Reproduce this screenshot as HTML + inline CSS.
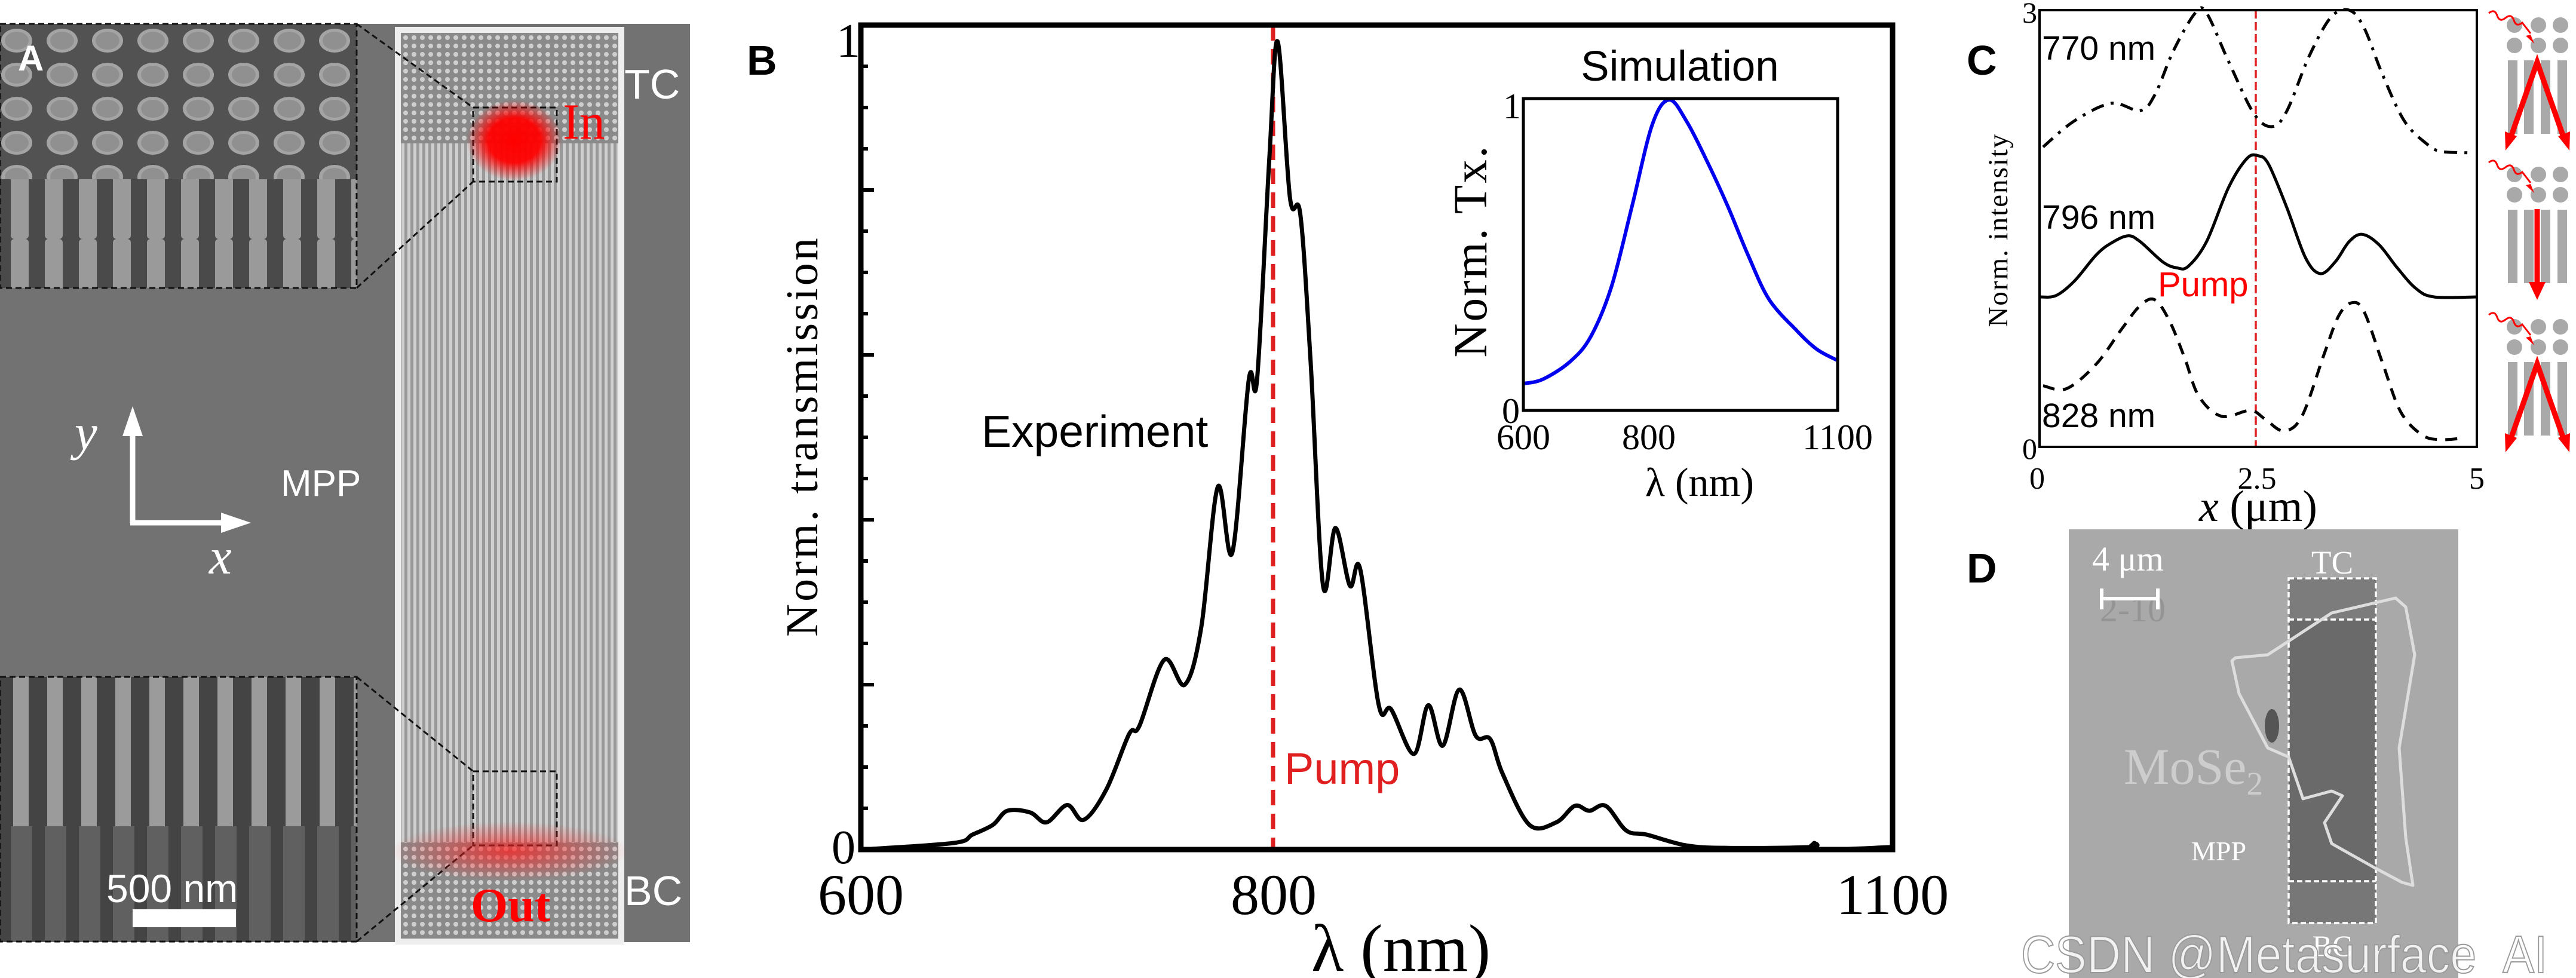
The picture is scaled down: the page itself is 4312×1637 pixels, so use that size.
<!DOCTYPE html>
<html><head><meta charset="utf-8"><style>
html,body{margin:0;padding:0;background:#fff;width:4312px;height:1637px;overflow:hidden}
svg{display:block}
.sans{font-family:"Liberation Sans",sans-serif}
.serif{font-family:"Liberation Serif",serif}
</style></head><body>
<svg id="fig" width="4312" height="1637" viewBox="0 0 4312 1637" xmlns="http://www.w3.org/2000/svg">
<defs>
<radialGradient id="inG"><stop offset="0" stop-color="#ff0000"/><stop offset="0.55" stop-color="#ff0000" stop-opacity="0.95"/><stop offset="1" stop-color="#ff0000" stop-opacity="0"/></radialGradient>
<radialGradient id="outG"><stop offset="0" stop-color="#ff2020" stop-opacity="0.75"/><stop offset="1" stop-color="#ff2020" stop-opacity="0"/></radialGradient>
<pattern id="dots" width="14" height="14" patternUnits="userSpaceOnUse"><rect width="14" height="14" fill="#8a8a8a"/><circle cx="7" cy="7" r="4" fill="#cfcfcf"/></pattern>
<pattern id="lines" width="10" height="10" patternUnits="userSpaceOnUse"><rect width="10" height="10" fill="#999"/><rect x="2" width="5" height="10" fill="#cfcfcf"/></pattern>
<pattern id="bigDots" width="76" height="57" patternUnits="userSpaceOnUse" x="-10" y="40"><rect width="76" height="57" fill="#525252"/><ellipse cx="38" cy="28" rx="26" ry="20" fill="#a4a4a4"/><ellipse cx="38" cy="28" rx="20" ry="15" fill="#909090"/></pattern>
<pattern id="pillars" width="57" height="200" patternUnits="userSpaceOnUse" x="8"><rect width="57" height="200" fill="#4a4a4a"/><rect x="10" width="30" height="200" fill="#9a9a9a" rx="6"/></pattern>
<pattern id="pillars2" width="57" height="450" patternUnits="userSpaceOnUse" x="8" y="1133"><rect width="57" height="450" fill="#444"/><rect x="14" width="26" height="250" fill="#9b9b9b"/><rect x="10" y="250" width="36" height="200" fill="#606060"/></pattern>
</defs>

<!-- ===== PANEL A ===== -->
<g>
<rect x="0" y="40" width="1155" height="1537" fill="#727272"/>
<rect x="666" y="50" width="374" height="1526" fill="url(#lines)"/>
<rect x="666" y="50" width="374" height="190" fill="url(#dots)"/>
<rect x="666" y="1410" width="374" height="166" fill="url(#dots)"/>
<rect x="666" y="50" width="374" height="1526" fill="none" stroke="#eee" stroke-width="10"/>
<rect x="0" y="40" width="597" height="442" fill="url(#bigDots)"/>
<rect x="0" y="300" width="597" height="182" fill="url(#pillars)"/>
<rect x="0" y="40" width="597" height="442" fill="none" stroke="#111" stroke-width="3" stroke-dasharray="10 6"/>
<rect x="0" y="1133" width="597" height="443" fill="url(#pillars2)"/>
<rect x="0" y="1133" width="597" height="443" fill="none" stroke="#111" stroke-width="3" stroke-dasharray="10 6"/>
<rect x="792" y="180" width="140" height="124" fill="none" stroke="#111" stroke-width="3" stroke-dasharray="10 6"/>
<rect x="792" y="1291" width="140" height="124" fill="none" stroke="#111" stroke-width="3" stroke-dasharray="10 6"/>
<line x1="597" y1="40" x2="792" y2="180" stroke="#111" stroke-width="3" stroke-dasharray="10 6"/>
<line x1="597" y1="482" x2="792" y2="304" stroke="#111" stroke-width="3" stroke-dasharray="10 6"/>
<line x1="597" y1="1133" x2="792" y2="1291" stroke="#111" stroke-width="3" stroke-dasharray="10 6"/>
<line x1="597" y1="1576" x2="792" y2="1415" stroke="#111" stroke-width="3" stroke-dasharray="10 6"/>
<ellipse cx="861" cy="235" rx="80" ry="68" fill="url(#inG)"/>
<ellipse cx="853" cy="1425" rx="200" ry="50" fill="url(#outG)"/>
<text x="30" y="118" class="sans" font-size="60" font-weight="bold" fill="#fff">A</text>
<text x="1045" y="165" class="sans" font-size="70" fill="#fff">TC</text>
<text x="1045" y="1515" class="sans" font-size="70" fill="#fff">BC</text>
<text x="942" y="232" class="serif" font-size="85" fill="#ff0000">In</text>
<text x="788" y="1542" class="serif" font-size="80" font-weight="bold" fill="#ff0000">Out</text>
<text x="470" y="830" class="sans" font-size="62" fill="#fff">MPP</text>
<text x="178" y="1510" class="sans" font-size="66" fill="#fff">500 nm</text>
<rect x="222" y="1522" width="173" height="30" fill="#fff"/>
<g stroke="#fff" stroke-width="9" fill="none">
<line x1="222" y1="875" x2="222" y2="720"/><line x1="218" y1="875" x2="395" y2="875"/>
</g>
<polygon points="222,680 205,730 239,730" fill="#fff"/>
<polygon points="420,875 370,858 370,892" fill="#fff"/>
<text x="125" y="752" class="serif" font-size="85" font-style="italic" fill="#fff">y</text>
<text x="350" y="960" class="serif" font-size="85" font-style="italic" fill="#fff">x</text>
</g>

<!-- ===== PANEL B ===== -->
<g id="panelB">
<text x="1250" y="125" class="sans" font-size="70" font-weight="bold">B</text>
<g id="bTicks"></g>
<line x1="2131" y1="42" x2="2131" y2="1422" stroke="#e02020" stroke-width="7" stroke-dasharray="26 14"/>
<path id="expPath" fill="none" stroke="#000" stroke-width="7" stroke-linejoin="round"/>
<rect x="1441" y="42" width="1727" height="1380" fill="none" stroke="#000" stroke-width="9"/>
<text x="1400" y="95" class="serif" font-size="80">1</text>
<text x="1392" y="1445" class="serif" font-size="80">0</text>
<text x="1441" y="1530" class="serif" font-size="96" text-anchor="middle">600</text>
<text x="2132" y="1530" class="serif" font-size="96" text-anchor="middle">800</text>
<text x="3168" y="1530" class="serif" font-size="96" text-anchor="middle">1100</text>
<text x="2345" y="1625" class="serif" font-size="112" text-anchor="middle">λ (nm)</text>
<text transform="translate(1368,730) rotate(-90)" class="serif" font-size="76" letter-spacing="4" text-anchor="middle">Norm. transmission</text>
<text x="1643" y="748" class="sans" font-size="75">Experiment</text>
<text x="2150" y="1312" class="sans" font-size="74" fill="#e02020">Pump</text>
<!-- inset -->
<text x="2812" y="135" class="sans" font-size="71" text-anchor="middle">Simulation</text>
<path id="simPath" fill="none" stroke="#0000ee" stroke-width="6"/>
<rect x="2550" y="165" width="526" height="522" fill="none" stroke="#000" stroke-width="5"/>
<text x="2516" y="198" class="serif" font-size="60">1</text>
<text x="2514" y="708" class="serif" font-size="60">0</text>
<text x="2550" y="752" class="serif" font-size="60" text-anchor="middle">600</text>
<text x="2760" y="752" class="serif" font-size="60" text-anchor="middle">800</text>
<text x="3076" y="752" class="serif" font-size="60" text-anchor="middle">1100</text>
<text x="2845" y="830" class="serif" font-size="68" text-anchor="middle">λ (nm)</text>
<text transform="translate(2488,420) rotate(-90)" class="serif" font-size="79" letter-spacing="3" text-anchor="middle">Norm. Tx.</text>
</g>

<!-- ===== PANEL C ===== -->
<g id="panelC">
<text x="3292" y="125" class="sans" font-size="70" font-weight="bold">C</text>
<line x1="3776" y1="17" x2="3776" y2="748" stroke="#e02020" stroke-width="3.5" stroke-dasharray="14 6"/>
<path id="c770" fill="none" stroke="#000" stroke-width="5" stroke-dasharray="22 12 5 12"/>
<path id="c796" fill="none" stroke="#000" stroke-width="5"/>
<path id="c828" fill="none" stroke="#000" stroke-width="5" stroke-dasharray="20 14"/>
<rect x="3414" y="17" width="732" height="731" fill="none" stroke="#000" stroke-width="4"/>
<text x="3418" y="100" class="sans" font-size="57">770 nm</text>
<text x="3418" y="383" class="sans" font-size="57">796 nm</text>
<text x="3418" y="715" class="sans" font-size="57">828 nm</text>
<text x="3612" y="496" class="sans" font-size="58" fill="#ff0000">Pump</text>
<text x="3385" y="38" class="serif" font-size="50">3</text>
<text x="3385" y="768" class="serif" font-size="50">0</text>
<text x="3410" y="818" class="serif" font-size="52" text-anchor="middle">0</text>
<text x="3778" y="818" class="serif" font-size="52" text-anchor="middle">2.5</text>
<text x="4146" y="818" class="serif" font-size="52" text-anchor="middle">5</text>
<text x="3780" y="872" class="serif" font-size="74" text-anchor="middle"><tspan font-style="italic">x</tspan> (μm)</text>
<text transform="translate(3360,385) rotate(-90)" class="serif" font-size="47" letter-spacing="2" text-anchor="middle">Norm. intensity</text>
<g id="icons"></g>
</g>

<!-- ===== PANEL D ===== -->
<g>
<text x="3292" y="975" class="sans" font-size="70" font-weight="bold">D</text>
<rect x="3463" y="886" width="652" height="751" fill="#a9a9a9"/>
<rect x="3831" y="968" width="146" height="577" fill="#6a6a6a"/>
<rect x="3831" y="968" width="146" height="69" fill="#7c7c7c"/>
<rect x="3831" y="1475" width="146" height="70" fill="#777"/>
<ellipse cx="3803" cy="1215" rx="12" ry="28" fill="#555"/>
<text x="3515" y="1040" class="serif" font-size="60" fill="#8c8c8c" opacity="0.7">2-10</text>
<g fill="none" stroke="#fff" stroke-width="3.5" stroke-dasharray="9 5">
<rect x="3831" y="968" width="146" height="577"/><line x1="3831" y1="1037" x2="3977" y2="1037"/><line x1="3831" y1="1475" x2="3977" y2="1475"/>
</g>
<path d="M3742,1101 L3796,1096 L3903,1026 L4010,1001 L4027,1016 L4042,1096 L4016,1252 L4027,1402 L4039,1482 L4021,1477 L3974,1452 L3903,1412 L3891,1377 L3921,1332 L3903,1324 L3855,1337 L3831,1267 L3796,1252 L3748,1161 L3736,1106 Z" fill="none" stroke="#ddd" stroke-width="5" stroke-linejoin="round"/>
<text x="3502" y="955" class="serif" font-size="58" fill="#fff">4 μm</text>
<g stroke="#fff" stroke-width="6"><line x1="3518" y1="1002" x2="3612" y2="1002"/><line x1="3518" y1="985" x2="3518" y2="1020"/><line x1="3612" y1="985" x2="3612" y2="1020"/></g>
<text x="3904" y="960" class="serif" font-size="55" fill="#fff" text-anchor="middle">TC</text>
<text x="3555" y="1312" class="serif" font-size="86" fill="#cdcdcd">MoSe<tspan font-size="55" dy="18">2</tspan></text>
<text x="3714" y="1440" class="serif" font-size="46" fill="#fff" text-anchor="middle">MPP</text>
<text x="3904" y="1600" class="serif" font-size="50" fill="#fff" text-anchor="middle">BC</text>
<text x="3383" y="1628" class="sans" font-size="88" fill="#fff" fill-opacity="0.85" stroke="#9a9a9a" stroke-width="2" textLength="925" lengthAdjust="spacingAndGlyphs">CSDN @Metasurface_AI_</text>
</g>
</svg>
<script>
// ---- Panel B data ----
const expWl = [600,645,654,664,671,682,690,700,708,719,730,735,747,757,765,773,780,788,792,798,802,808,813,818,824,830,837,842,851,857,868,875,882,890,898,905,911,924,937,946,953,961,971,981,1000,1020,1060,1062,1063,1100];
const expVal = [0,0.008,0.018,0.03,0.047,0.045,0.033,0.054,0.036,0.073,0.14,0.15,0.23,0.20,0.27,0.44,0.36,0.57,0.57,0.84,0.98,0.79,0.77,0.59,0.32,0.39,0.32,0.34,0.175,0.17,0.116,0.175,0.126,0.194,0.138,0.134,0.092,0.03,0.033,0.053,0.047,0.053,0.023,0.018,0.005,0.002,0.003,0.008,0.0,0.003];
const simWl = [600,631,674,707,740,773,805,832,860,893,925,958,991,1035,1067,1100];
const simVal = [0.086,0.1,0.156,0.236,0.396,0.656,0.916,0.996,0.926,0.796,0.656,0.496,0.356,0.256,0.196,0.16];
const bYMinor = [0.05,0.1,0.15,0.2,0.25,0.3,0.35,0.4,0.45,0.5,0.55,0.6,0.65,0.7,0.75,0.8,0.85,0.9,0.95];
// ---- Panel C data ----
const c770x = [0.04,0.4,0.82,1.15,1.32,1.53,1.78,1.91,2.16,2.45,2.66,2.83,3.08,3.33,3.54,3.71,3.92,4.17,4.43,4.59,4.91];
const c770y = [2.06,2.24,2.36,2.31,2.42,2.72,2.98,2.98,2.65,2.29,2.2,2.31,2.68,2.95,3.0,2.88,2.56,2.24,2.08,2.03,2.02];
const c796x = [0,0.19,0.4,0.65,0.82,1.01,1.15,1.41,1.57,1.70,1.91,2.16,2.37,2.5,2.62,2.83,3.04,3.21,3.38,3.54,3.69,3.88,4.09,4.30,4.51,5];
const c796y = [1.03,1.04,1.14,1.32,1.40,1.45,1.41,1.27,1.23,1.24,1.41,1.78,1.98,2.0,1.94,1.64,1.30,1.19,1.27,1.41,1.46,1.39,1.23,1.09,1.03,1.03];
const c828x = [0.04,0.31,0.65,0.94,1.15,1.32,1.49,1.66,1.82,2.08,2.41,2.58,2.79,3.0,3.25,3.42,3.57,3.71,3.92,4.13,4.38,4.59,4.84];
const c828y = [0.42,0.40,0.57,0.81,0.97,1.01,0.86,0.61,0.35,0.21,0.25,0.19,0.11,0.21,0.63,0.90,0.99,0.93,0.58,0.24,0.08,0.05,0.06];

const NS='http://www.w3.org/2000/svg';
function lin(d0,d1,r0,r1){return v=>r0+(v-d0)/(d1-d0)*(r1-r0);}
function smooth(xs,ys,fx,fy){
  const p=xs.map((x,i)=>[fx(x),fy(ys[i])]);
  let d='M'+p[0][0].toFixed(1)+','+p[0][1].toFixed(1);
  for(let i=0;i<p.length-1;i++){
    const a=p[Math.max(0,i-1)],b=p[i],c=p[i+1],e=p[Math.min(p.length-1,i+2)];
    const c1=[b[0]+(c[0]-a[0])/6,b[1]+(c[1]-a[1])/6],c2=[c[0]-(e[0]-b[0])/6,c[1]-(e[1]-b[1])/6];
    d+=' C'+c1.map(v=>v.toFixed(1))+' '+c2.map(v=>v.toFixed(1))+' '+c.map(v=>v.toFixed(1));
  }
  return d;
}
const bx=lin(600,1100,1441,3168), by=lin(0,1,1422,42);
document.getElementById('expPath').setAttribute('d',smooth(expWl,expVal,bx,by));
const sx=lin(600,1100,2550,3076), sy=lin(0,1,687,165);
document.getElementById('simPath').setAttribute('d',smooth(simWl,simVal,sx,sy));
const tg=document.getElementById('bTicks');
bYMinor.forEach(v=>{
  const l=document.createElementNS(NS,'line');
  const major=Math.abs((v*10)%2)<1e-6||Math.abs((v*10)%2-2)<1e-6;
  l.setAttribute('x1',1441);l.setAttribute('x2',1441+(major?22:12));
  l.setAttribute('y1',by(v));l.setAttribute('y2',by(v));
  l.setAttribute('stroke','#000');l.setAttribute('stroke-width',6);
  
  
  tg.appendChild(l);
});
const cx=lin(0,5,3414,4146), cy=lin(0,3,748,17);
document.getElementById('c770').setAttribute('d',smooth(c770x,c770y,cx,cy));
document.getElementById('c796').setAttribute('d',smooth(c796x,c796y,cx,cy));
document.getElementById('c828').setAttribute('d',smooth(c828x,c828y,cx,cy));
// schematic icons
const ig=document.getElementById('icons');
[0,250,505].forEach((off,k)=>{
  const g=document.createElementNS(NS,'g');
  
  
  let s='';
  [[4209,42],[4249,42],[4286,42],[4209,76],[4249,76],[4286,76]].forEach(c=>{s+=`<circle cx="${c[0]}" cy="${c[1]+off}" r="13" fill="#a9a9a9"/>`;});
  [4206,4233,4261,4289].forEach(x=>{s+=`<rect x="${x-8}" y="${101+off}" width="16" height="123" fill="#a9a9a9"/>`;});
  s+=`<path d="M4166,${22+off} q10,-8 14,4 q4,12 14,4 q10,-8 14,4 q4,12 14,4 l14,18" fill="none" stroke="#f00" stroke-width="3"/>`;
  s+=`<polygon points="4242,${73+off} 4228,${60+off} 4236,${58+off}" fill="#f00"/>`;
  if(k===1){
    s+=`<line x1="4247" y1="${100+off}" x2="4247" y2="${225+off}" stroke="#f00" stroke-width="9"/><polygon points="4247,${252+off} 4233,${222+off} 4261,${222+off}" fill="#f00"/>`;
  } else {
    s+=`<polyline points="4202,${232+off} 4247,${104+off} 4292,${232+off}" fill="none" stroke="#f00" stroke-width="9"/>`;
    s+=`<polygon points="4194,${252+off} 4193,${220+off} 4213,${228+off}" fill="#f00"/><polygon points="4301,${252+off} 4302,${220+off} 4282,${228+off}" fill="#f00"/>`;
  }
  g.innerHTML=s;
  ig.appendChild(g);
});
</script>
</body></html>
